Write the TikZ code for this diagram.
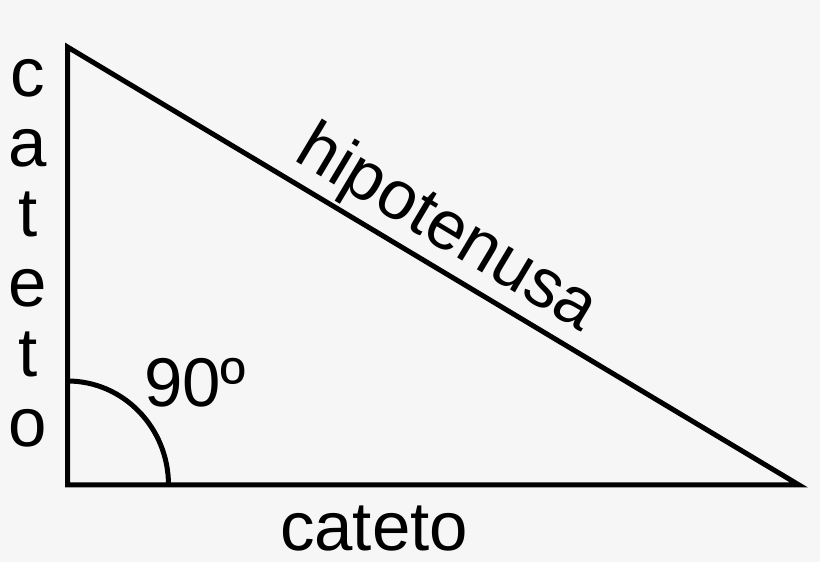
\documentclass[tikz,border=0pt]{standalone}
\usepackage{fontspec}
\setmainfont{Liberation Sans}
\definecolor{bg}{RGB}{246,246,246}
\begin{document}
\begin{tikzpicture}[x=1pt,y=1pt,
  edge/.style={line width=5pt,black},
  lbl/.style={inner sep=0pt,font=\fontsize{69}{70}\selectfont,text=black}]
\fill[bg] (0,0) rectangle (820,562);
\useasboundingbox (0,0) rectangle (820,562);
\coordinate (A) at (67.5,515);
\coordinate (C) at (67.5,77);
\coordinate (B) at (799,77);
\draw[edge] (A) -- (C) -- (B) -- cycle;
\coordinate (arcstart) at (67.5,181);
\draw[edge] (arcstart) arc[start angle=90,end angle=0,x radius=101,y radius=104];
\node[lbl,anchor=base west] (ang) at (144,155) {90º};
\node[lbl,anchor=base] (bottom) at (374,11) {cateto};
\node[lbl,anchor=base,rotate=-30.9] (hyp) at (437,316) {hipotenusa};
\foreach \ch [count=\i] in {c,a,t,e,t,o}{
  \node[lbl,anchor=base] (v\i) at (28,535-70*\i) {\ch};
}
\end{tikzpicture}
\end{document}
